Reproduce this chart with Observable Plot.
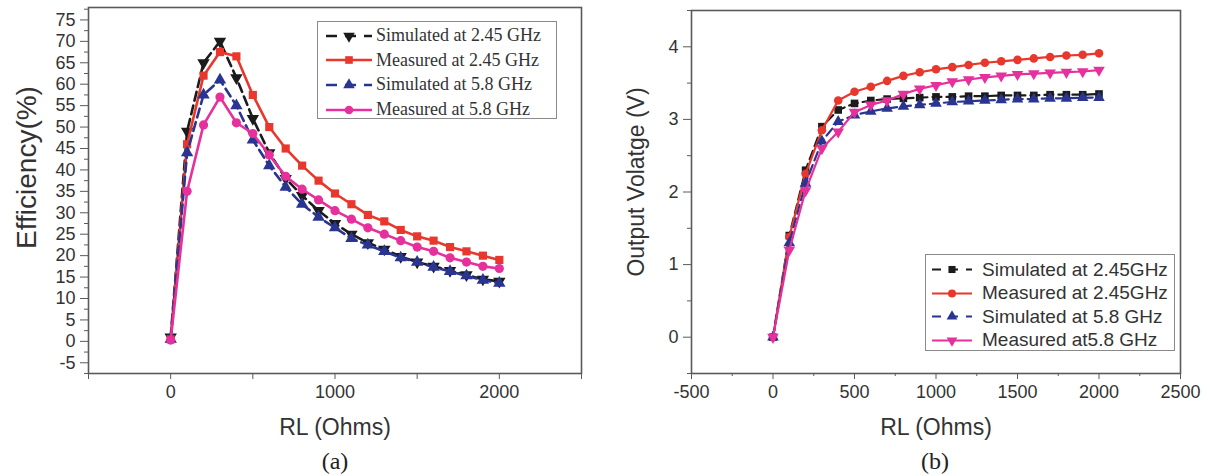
<!DOCTYPE html>
<html><head><meta charset="utf-8">
<script src="https://cdn.jsdelivr.net/npm/d3@7"></script>
<script src="https://cdn.jsdelivr.net/npm/@observablehq/plot@0.6"></script>
<style>
body{margin:0;background:#fff;}
#wrap{position:relative;width:1210px;height:476px;overflow:hidden;font-family:"Liberation Sans",Arial,sans-serif;color:#333;}
.panel{position:absolute;top:0;}
.legend{position:absolute;border:1px solid #8a8a8a;background:#fff;box-sizing:border-box;}
.legend .row{position:absolute;left:0;right:0;display:flex;align-items:center;white-space:nowrap;}
.legend .row svg{flex:none;}
.cap{position:absolute;font-family:"Liberation Serif","Times New Roman",serif;font-size:24px;color:#222;transform:translate(-50%,-50%);}
</style>
</head><body>
<div id="wrap"></div>
<script>
// ---------- data ----------
const rl = [0,100,200,300,400,500,600,700,800,900,1000,1100,1200,1300,1400,1500,1600,1700,1800,1900,2000];

// (a) Efficiency (%)
const effSim245  = [1,49,65,70,61.5,52,44,38,34,30.5,27.5,25,23,21.5,19.8,18.5,17.5,16.5,15.5,14.5,14];
const effMeas245 = [0.5,46,62,67.5,66.5,57.5,50,45,41,37.5,34.5,32,29.5,28,26,24.5,23.5,22,21,20,19];
const effSim58   = [0.5,44,57.5,61,55,47,41,36,32,29,26.5,24,22.5,21,19.5,18.5,17.3,16.3,15.3,14.3,13.6];
const effMeas58  = [0.3,35,50.5,57,51,48.5,43.5,38.5,35.5,33,30.5,28.5,26.5,25,23.5,22,21,19.5,18.5,17.5,17];

// (b) Output voltage (V)
const voltSim245  = [0,1.4,2.3,2.9,3.13,3.22,3.26,3.28,3.29,3.3,3.31,3.31,3.32,3.32,3.33,3.33,3.33,3.34,3.34,3.34,3.35];
const voltMeas245 = [0,1.38,2.25,2.85,3.26,3.38,3.45,3.53,3.6,3.65,3.69,3.72,3.75,3.78,3.8,3.82,3.84,3.86,3.88,3.89,3.91];
const voltSim58   = [0,1.3,2.12,2.7,2.97,3.06,3.11,3.15,3.18,3.2,3.22,3.24,3.25,3.26,3.27,3.28,3.28,3.29,3.29,3.3,3.3];
const voltMeas58  = [0,1.2,2.02,2.6,2.83,3.1,3.2,3.26,3.35,3.42,3.47,3.52,3.55,3.58,3.6,3.62,3.63,3.64,3.65,3.66,3.68];

const effLabels  = ["Simulated at 2.45 GHz","Measured at 2.45 GHz","Simulated at 5.8 GHz","Measured at 5.8 GHz"];
const voltLabels = ["Simulated at 2.45GHz","Measured at 2.45GHz","Simulated at 5.8 GHz","Measured at5.8 GHz"];

const effYTicks  = [-5,0,5,10,15,20,25,30,35,40,45,50,55,60,65,70,75];
const effYMinor  = [-7.5,-2.5,2.5,7.5,12.5,17.5,22.5,27.5,32.5,37.5,42.5,47.5,52.5,57.5,62.5,67.5,72.5,77.5];
const effXTicks  = [0,1000,2000];
const effXMinor  = [-500,500,1500,2500];
const voltYTicks = [0,1,2,3,4];
const voltYMinor = [-0.5,0.5,1.5,2.5,3.5,4.5];
const voltXTicks = [-500,0,500,1000,1500,2000,2500];
const voltXMinor = [-250,250,750,1250,1750,2250];

// ---------- styles ----------
const BLACK = "#1b1b1b", RED = "#e8372c", BLUE = "#293590", MAGENTA = "#e6309c";
const sqrt3 = Math.sqrt(3);
const triDown = {draw(ctx, size){ const y = -Math.sqrt(size/(sqrt3*3)); ctx.moveTo(0,-y*2); ctx.lineTo(-sqrt3*y, y); ctx.lineTo(sqrt3*y, y); ctx.closePath(); }};
const triUp = {draw(ctx, size){ const y = -Math.sqrt(size/(sqrt3*3)); ctx.moveTo(0,y*2); ctx.lineTo(-sqrt3*y,-y); ctx.lineTo(sqrt3*y,-y); ctx.closePath(); }};

const effSeries = [
  {label: effLabels[0], values: effSim245,  color: BLACK,   dash: true,  symbol: triDown},
  {label: effLabels[1], values: effMeas245, color: RED,     dash: false, symbol: "square"},
  {label: effLabels[2], values: effSim58,   color: BLUE,    dash: true,  symbol: triUp},
  {label: effLabels[3], values: effMeas58,  color: MAGENTA, dash: false, symbol: "circle"}
];
const voltSeries = [
  {label: voltLabels[0], values: voltSim245,  color: BLACK,   dash: true,  symbol: "square"},
  {label: voltLabels[1], values: voltMeas245, color: RED,     dash: false, symbol: "circle"},
  {label: voltLabels[2], values: voltSim58,   color: BLUE,    dash: true,  symbol: triUp},
  {label: voltLabels[3], values: voltMeas58,  color: MAGENTA, dash: false, symbol: triDown}
];

const FRAME = "#5a5a5a";
const fmt = d => String(d);

function makePanel(cfg) {
  const marks = [];
  for (const s of cfg.series) {
    const rows = rl.map((x, i) => ({x, y: s.values[i]}));
    marks.push(Plot.line(rows, {x: "x", y: "y", stroke: s.color, strokeWidth: cfg.lw, strokeDasharray: s.dash ? "9,5" : null}));
    marks.push(Plot.dot(rows, {x: "x", y: "y", fill: s.color, stroke: "none", r: cfg.r, symbol: s.symbol}));
  }
  marks.push(Plot.frame({stroke: FRAME, strokeWidth: 1.6}));
  marks.push(Plot.axisY(cfg.yMinor, {tickSize: 4, stroke: FRAME, fill: "none", label: null}));
  marks.push(Plot.axisY(cfg.yTicks, {tickSize: 8, stroke: FRAME, fill: "#333", tickPadding: 5, label: null, fontSize: 18, tickFormat: fmt}));
  marks.push(Plot.axisX(cfg.xMinor, {tickSize: cfg.xMinorSize, stroke: FRAME, fill: "none", label: null}));
  marks.push(Plot.axisX(cfg.xTicks, {tickSize: 6, stroke: FRAME, fill: "#333", tickPadding: 6, label: null, fontSize: 18, tickFormat: fmt}));
  marks.push(Plot.text([cfg.xTitle], {frameAnchor: "bottom", dy: 54, lineAnchor: "middle", textAnchor: "middle", fontSize: 23, fill: "#333"}));
  marks.push(Plot.text([cfg.yTitle], {frameAnchor: "left", dx: cfg.yTitleDx, dy: cfg.yTitleDy, rotate: -90, lineAnchor: "middle", textAnchor: "middle", fontSize: cfg.yTitleFs, fill: "#333"}));
  return Plot.plot({
    width: cfg.width, height: 442,
    marginLeft: cfg.ml, marginRight: cfg.mr, marginTop: cfg.mt, marginBottom: 69,
    style: {fontFamily: "'Liberation Sans', Arial, sans-serif", fontSize: "18px", background: "#fff", color: "#333"},
    x: {domain: cfg.xDomain, label: null},
    y: {domain: cfg.yDomain, label: null},
    marks
  });
}

const wrap = document.getElementById("wrap");

function addPanel(left, node) {
  const d = document.createElement("div");
  d.className = "panel"; d.style.left = left + "px";
  d.appendChild(node); wrap.appendChild(d);
}

addPanel(0, makePanel({
  series: effSeries, width: 600, ml: 88, mr: 19, mt: 7,
  xDomain: [-500, 2500], yDomain: [-7.5, 77.9],
  yTicks: effYTicks, yMinor: effYMinor, xTicks: effXTicks, xMinor: effXMinor, xMinorSize: 6,
  xTitle: "RL (Ohms)", yTitle: "Efficiency(%)", yTitleDx: -61, yTitleDy: -23, yTitleFs: 28, lw: 2.6, r: 4.6
}));
addPanel(600, makePanel({
  series: voltSeries, width: 610, ml: 91, mr: 30, mt: 10,
  xDomain: [-500, 2500], yDomain: [-0.5, 4.5],
  yTicks: voltYTicks, yMinor: voltYMinor, xTicks: voltXTicks, xMinor: voltXMinor, xMinorSize: 3,
  xTitle: "RL (Ohms)", yTitle: "Output Volatge (V)", yTitleDx: -55, yTitleDy: -10, yTitleFs: 23, lw: 2.2, r: 4.3
}));

// ---------- legends ----------
function symPath(sym, r) {
  const type = sym === "square" ? d3.symbolSquare : sym === "circle" ? d3.symbolCircle : sym;
  return d3.symbol(type, r * r * Math.PI)();
}
function addLegend(series, box) {
  const lg = document.createElement("div");
  lg.className = "legend";
  Object.assign(lg.style, {left: box.left + "px", top: box.top + "px", width: box.w + "px", height: box.h + "px"});
  series.forEach((s, i) => {
    const row = document.createElement("div");
    row.className = "row";
    row.style.top = (box.first + i * box.step - box.rowH / 2) + "px";
    row.style.height = box.rowH + "px";
    row.style.paddingLeft = box.padL + "px";
    row.style.fontFamily = box.font;
    row.style.fontSize = box.fs + "px";
    row.style.color = "#333";
    const W = box.sw;
    const svg = d3.create("svg").attr("width", W).attr("height", box.rowH);
    svg.append("line").attr("x1", 0).attr("x2", W).attr("y1", box.rowH/2).attr("y2", box.rowH/2)
      .attr("stroke", s.color).attr("stroke-width", box.lw)
      .attr("stroke-dasharray", s.dash ? box.dash : null);
    svg.append("path").attr("d", symPath(s.symbol, box.r))
      .attr("transform", `translate(${W/2},${box.rowH/2})`).attr("fill", s.color);
    row.appendChild(svg.node());
    const t = document.createElement("span");
    t.textContent = s.label;
    t.style.marginLeft = box.gap + "px";
    row.appendChild(t);
    lg.appendChild(row);
  });
  wrap.appendChild(lg);
}
addLegend(effSeries, {left: 317, top: 21, w: 240, h: 98, first: 13.5, step: 24.7, rowH: 24, padL: 8, sw: 46, gap: 4,
  font: "'Liberation Serif','Times New Roman',serif", fs: 18, lw: 2.6, r: 4.3, dash: "11,8"});
addLegend(voltSeries, {left: 925, top: 254, w: 250, h: 97, first: 14.5, step: 23.6, rowH: 23, padL: 6, sw: 40, gap: 10,
  font: "'Liberation Sans',Arial,sans-serif", fs: 19, lw: 2.2, r: 4, dash: "9,8"});

// ---------- captions ----------
for (const [txt, x] of [["(a)", 335], ["(b)", 935]]) {
  const c = document.createElement("div");
  c.className = "cap"; c.textContent = txt;
  c.style.left = x + "px"; c.style.top = "461px";
  wrap.appendChild(c);
}
</script>
</body></html>
